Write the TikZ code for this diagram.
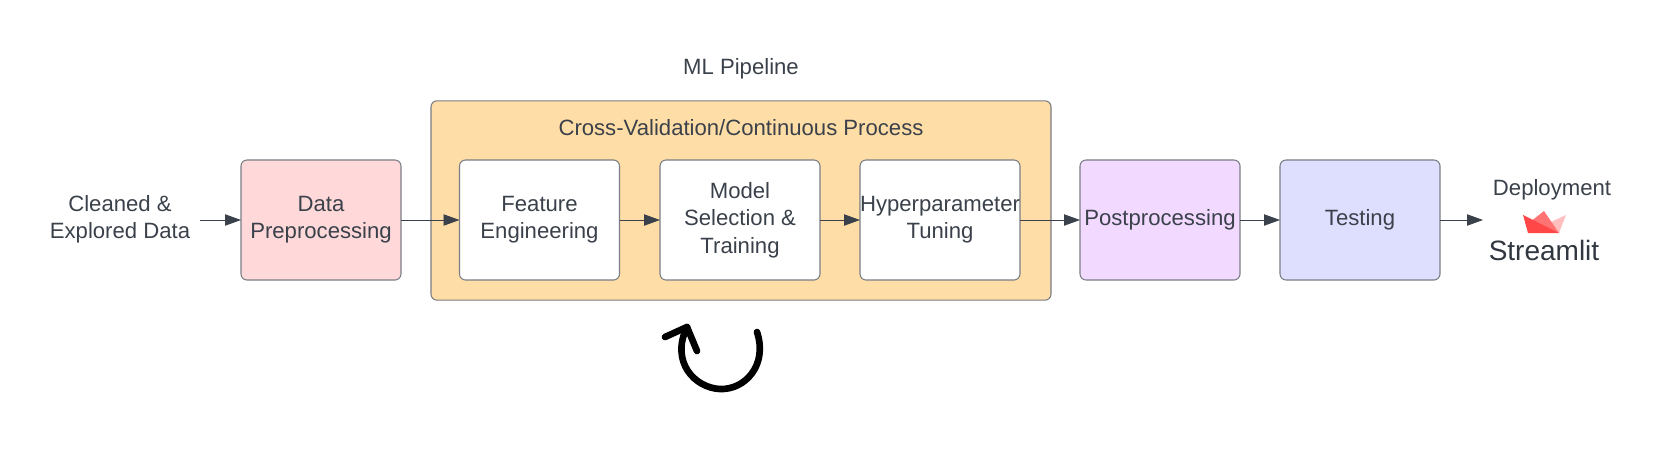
\documentclass[tikz,border=0pt]{standalone}
\usepackage{fontspec}
\setmainfont{Liberation Sans}
\usetikzlibrary{arrows, arrows.meta}
\definecolor{inkgray}{HTML}{3A414A}
\definecolor{edgegray}{HTML}{7A7D85}
\definecolor{pinkbox}{HTML}{FFD9D9}
\definecolor{orangebox}{HTML}{FFDDA6}
\definecolor{purplebox}{HTML}{F2D9FF}
\definecolor{bluebox}{HTML}{DEDFFF}
\tikzset{
  stagebox/.style={draw=edgegray, line width=.8pt, rounded corners=4.5pt, minimum width=120pt, minimum height=90pt, inner sep=0pt, outer sep=0pt, align=center, text=inkgray, font=\fontsize{16.6}{20.5}\selectfont},
  plaintext/.style={align=center, text=inkgray, inner sep=0pt, font=\fontsize{16.6}{20.5}\selectfont},
  flow/.style={draw=inkgray, line width=.65pt, -{Triangle[length=12pt, width=8.5pt]}}
}

\begin{document}
\begin{tikzpicture}[x=.75pt, y=-.75pt]
 \useasboundingbox (0,0) rectangle (1660,469);
 \node[stagebox, fill=orangebox, minimum width=465pt, minimum height=149.5pt] (Pipeline) at (741,200.5) {};
 \node[plaintext] (PipelineTitle) at (741,69) {ML Pipeline};
 \node[plaintext] (CrossTitle) at (741,128) {Cross-Validation/Continuous Process};
 \node[plaintext] (Cleaned) at (120,219.5) {Cleaned \&\\Explored Data};
 \node[stagebox, fill=pinkbox] (Data) at (321,220) {Data\\Preprocessing};
 \node[stagebox, fill=white] (Feature) at (539.5,220) {Feature\\Engineering};
 \node[stagebox, fill=white] (Model) at (740,220) {Model\\Selection \&\\Training};
 \node[stagebox, fill=white] (Tuning) at (940,220) {Hyperparameter\\Tuning};
 \node[stagebox, fill=purplebox] (Post) at (1160,220) {Postprocessing};
 \node[stagebox, fill=bluebox] (Testing) at (1360,220) {Testing};
 \node[plaintext] (Deployment) at (1552,190) {Deployment};
 \node[plaintext, font=\fontsize{21}{24}\selectfont, text=inkgray!85!black] (Streamlit) at (1544,250) {Streamlit};
 \coordinate (Start) at (200,220);
 \coordinate (Deploy) at (1483,220);
 \draw[flow] (Start)--(Data);
 \draw[flow] (Data)--(Feature);
 \draw[flow] (Feature)--(Model);
 \draw[flow] (Model)--(Tuning);
 \draw[flow] (Tuning)--(Post);
 \draw[flow] (Post)--(Testing);
 \draw[flow] (Testing)--(Deploy);
 % streamlit crown
 \fill[red!25!white] (1566,215)--(1559,233)--(1551,222)--cycle;
 \fill[red!55!white] (1544,211)--(1559,233)--(1530,222)--cycle;
 \fill[red!72!white] (1523,215)--(1559,233)--(1528,233)--cycle;
 % loop
 \draw[black, line width=5pt, line cap=round, line join=round]
   (757,332) .. controls (768,365) and (745,390) .. (720,389)
   .. controls (695,388) and (670,362) .. (687,327);
 \draw[black, line width=5pt, line cap=round, line join=round]
   (665,337)--(687,327)--(697,351);
\end{tikzpicture}
\end{document}
